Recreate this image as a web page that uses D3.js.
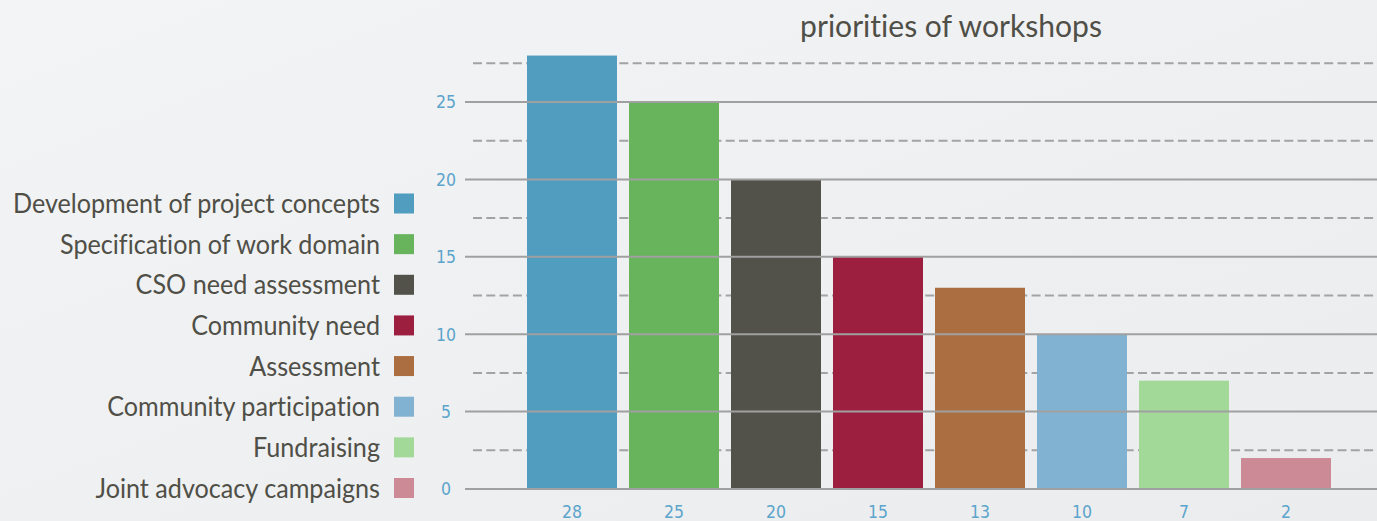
<!DOCTYPE html>
<html>
<head>
<meta charset="utf-8">
<script src="https://cdn.jsdelivr.net/npm/d3@7/dist/d3.min.js"></script>
<style>
  html, body { margin: 0; padding: 0; overflow: hidden; }
  svg { display: block; }
  text { font-variant-ligatures: none; font-feature-settings: "liga" 0; }
</style>
</head>
<body>
<script>
// Chart data
const categories = [
  "Development of project concepts",
  "Specification of work domain",
  "CSO need assessment",
  "Community need",
  "Assessment",
  "Community participation",
  "Fundraising",
  "Joint advocacy campaigns"
];
const values = [28, 25, 20, 15, 13, 10, 7, 2];
const colors = ["#519dbf", "#67b45c", "#52524a", "#9c1f3f", "#ab6e40", "#82b2d1", "#a2d898", "#cc8a96"];
const yTicks = [0, 5, 10, 15, 20, 25];
const yHalfTicks = [2.5, 7.5, 12.5, 17.5, 22.5, 27.5];
const title = "priorities of workshops";

const W = 1377, H = 521;
const svg = d3.select("body").append("svg").attr("width", W).attr("height", H);

// soft grey backdrop
const defs = svg.append("defs");
const grad = defs.append("linearGradient").attr("id", "bg")
  .attr("x1", "0").attr("y1", "0").attr("x2", "1").attr("y2", "1");
grad.append("stop").attr("offset", "0").attr("stop-color", "#f3f4f5");
grad.append("stop").attr("offset", "1").attr("stop-color", "#eaecee");
svg.append("rect").attr("width", W).attr("height", H).attr("fill", "url(#bg)");

const y = d3.scaleLinear().domain([0, 25]).range([489, 102]);
const step = 102, pad = 12 / 102;
const x = d3.scaleBand().domain(d3.range(values.length))
  .range([521, 521 + step * values.length])
  .paddingInner(pad).paddingOuter(pad / 2);

const gridLeft = 465, gridRight = W;

// dashed half-step lines (behind bars)
svg.append("g").selectAll("line").data(yHalfTicks).join("line")
  .attr("x1", gridLeft + 8).attr("x2", gridRight)
  .attr("y1", d => y(d)).attr("y2", d => y(d))
  .attr("stroke", "#a3a3a3").attr("stroke-width", 2)
  .attr("stroke-dasharray", "9,4.3");

// bars
svg.append("g").selectAll("rect").data(values).join("rect")
  .attr("x", (d, i) => x(i)).attr("width", x.bandwidth())
  .attr("y", d => y(d)).attr("height", d => y(0) - y(d))
  .attr("fill", (d, i) => colors[i]);

// solid major lines (over bars)
svg.append("g").selectAll("line").data(yTicks).join("line")
  .attr("x1", gridLeft).attr("x2", gridRight)
  .attr("y1", d => y(d)).attr("y2", d => y(d))
  .attr("stroke", "#a0a0a0").attr("stroke-width", 2);

const numFont = "'Liberation Sans Narrow', 'DejaVu Sans Condensed', sans-serif";

// y tick labels
svg.append("g").selectAll("text").data(yTicks).join("text")
  .attr("x", 446).attr("y", d => y(d)).attr("dy", "0.36em")
  .attr("text-anchor", "middle")
  .attr("font-family", numFont).attr("font-size", 17.5)
  .attr("fill", "#5ba4cb")
  .text(d => d);

// value labels under bars
svg.append("g").selectAll("text").data(values).join("text")
  .attr("x", (d, i) => x(i) + x.bandwidth() / 2).attr("y", 512).attr("dy", "0.36em")
  .attr("text-anchor", "middle")
  .attr("font-family", numFont).attr("font-size", 17.5)
  .attr("fill", "#5ba4cb")
  .text(d => d);

const textFont = "Lato, 'Open Sans', sans-serif";
const textColor = "#4f4f47";

// title
svg.append("text")
  .attr("transform", "translate(951,37) scale(0.97,1)")
  .attr("text-anchor", "middle")
  .attr("font-family", textFont).attr("font-size", 31)
  .attr("fill", textColor)
  .text(title);

// legend
const rowY = d3.scalePoint().domain(d3.range(categories.length)).range([203.5, 488]);
const leg = svg.append("g").selectAll("g").data(categories).join("g")
  .attr("transform", (d, i) => `translate(0,${rowY(i)})`);
leg.append("rect")
  .attr("x", 394).attr("y", -10).attr("width", 20).attr("height", 20)
  .attr("fill", (d, i) => colors[i]);
leg.append("text")
  .attr("transform", "translate(380,9.5) scale(0.95,1)")
  .attr("text-anchor", "end")
  .attr("font-family", textFont).attr("font-size", 26.5)
  .attr("fill", textColor)
  .text(d => d);
</script>
</body>
</html>
